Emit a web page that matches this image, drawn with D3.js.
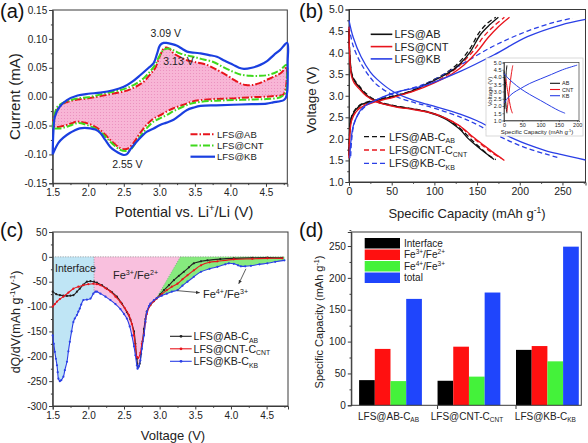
<!DOCTYPE html>
<html><head><meta charset="utf-8">
<script src="https://cdn.jsdelivr.net/npm/d3@7"></script>
<style>body{margin:0;background:#fff}svg{display:block}</style>
</head><body><script>
// ================= DATA =================
// Panel (a) CV loops: [potential (V), current (mA)]
const cvAB = [[1.5,-0.050],[1.52,-0.035],[1.56,-0.023],[1.65,-0.012],[1.8,-0.006],[2.0,-0.003],[2.25,0.003],[2.5,0.009],[2.65,0.016],[2.78,0.026],[2.88,0.040],[2.94,0.049],[3.0,0.068],[3.06,0.083],[3.1,0.085],[3.15,0.082],[3.2,0.075],[3.3,0.068],[3.39,0.063],[3.5,0.060],[3.67,0.055],[3.8,0.047],[3.95,0.037],[4.05,0.029],[4.14,0.023],[4.22,0.020],[4.3,0.020],[4.4,0.023],[4.51,0.029],[4.62,0.035],[4.7,0.040],[4.77,0.049],[4.79,0.052],
  [4.785,0.02],[4.77,0.011],[4.74,0.003],[4.6,0.001],[4.51,0.0],[4.3,-0.001],[4.04,-0.003],[3.8,-0.004],[3.58,-0.006],[3.45,-0.009],[3.34,-0.014],[3.2,-0.020],[3.1,-0.026],[3.0,-0.033],[2.92,-0.038],[2.82,-0.049],[2.73,-0.063],[2.65,-0.078],[2.57,-0.089],[2.51,-0.091],[2.45,-0.089],[2.38,-0.083],[2.31,-0.075],[2.24,-0.066],[2.17,-0.058],[2.08,-0.051],[1.98,-0.046],[1.9,-0.044],[1.84,-0.043],[1.77,-0.046],[1.7,-0.049],[1.6,-0.052],[1.53,-0.052],[1.5,-0.050]];
const cvCNT = [[1.5,-0.055],[1.52,-0.035],[1.57,-0.017],[1.7,-0.008],[1.85,-0.003],[2.0,-0.001],[2.25,0.006],[2.5,0.013],[2.65,0.021],[2.78,0.032],[2.88,0.045],[2.94,0.055],[3.0,0.070],[3.06,0.081],[3.15,0.083],[3.22,0.079],[3.29,0.075],[3.4,0.071],[3.48,0.069],[3.6,0.065],[3.76,0.060],[3.9,0.051],[4.04,0.043],[4.15,0.038],[4.28,0.036],[4.4,0.036],[4.51,0.037],[4.62,0.041],[4.7,0.046],[4.79,0.055],
  [4.795,0.03],[4.78,0.008],[4.7,-0.001],[4.51,-0.004],[4.3,-0.005],[4.04,-0.006],[3.8,-0.007],[3.58,-0.009],[3.45,-0.012],[3.34,-0.017],[3.2,-0.025],[3.1,-0.032],[3.0,-0.038],[2.92,-0.043],[2.82,-0.055],[2.73,-0.069],[2.65,-0.083],[2.59,-0.092],[2.52,-0.094],[2.45,-0.092],[2.38,-0.086],[2.31,-0.078],[2.24,-0.069],[2.17,-0.061],[2.08,-0.054],[1.98,-0.049],[1.9,-0.046],[1.84,-0.046],[1.77,-0.049],[1.7,-0.052],[1.6,-0.055],[1.5,-0.055]];
const cvKB = [[1.5,-0.100],[1.51,-0.060],[1.53,-0.035],[1.6,-0.017],[1.7,-0.006],[1.85,0.002],[2.0,0.005],[2.17,0.007],[2.35,0.011],[2.5,0.017],[2.62,0.026],[2.73,0.037],[2.85,0.050],[2.92,0.058],[2.97,0.075],[3.01,0.089],[3.06,0.093],[3.1,0.093],[3.18,0.091],[3.25,0.088],[3.32,0.083],[3.39,0.078],[3.5,0.076],[3.58,0.075],[3.7,0.072],[3.81,0.069],[3.92,0.062],[4.04,0.055],[4.12,0.050],[4.19,0.048],[4.3,0.050],[4.42,0.055],[4.52,0.062],[4.61,0.072],[4.7,0.081],[4.8,0.093],
  [4.805,0.06],[4.8,0.010],[4.78,-0.002],[4.75,-0.006],[4.6,-0.010],[4.51,-0.012],[4.3,-0.013],[4.04,-0.014],[3.8,-0.015],[3.58,-0.016],[3.48,-0.019],[3.39,-0.023],[3.3,-0.031],[3.2,-0.040],[3.1,-0.045],[3.01,-0.049],[2.92,-0.055],[2.82,-0.061],[2.75,-0.069],[2.68,-0.078],[2.6,-0.090],[2.54,-0.100],[2.5,-0.101],[2.45,-0.099],[2.38,-0.094],[2.31,-0.087],[2.24,-0.075],[2.17,-0.063],[2.1,-0.057],[2.03,-0.055],[1.95,-0.054],[1.88,-0.055],[1.8,-0.059],[1.74,-0.063],[1.65,-0.071],[1.58,-0.080],[1.5,-0.100]];
const cvNames = ["LFS@AB","LFS@CNT","LFS@KB"];
const cvPeaks = [{t:"3.09 V",v:3.09,i:0.103},{t:"3.13 V",v:3.27,i:0.054},{t:"2.55 V",v:2.55,i:-0.123}];

// Panel (b) charge/discharge: [capacity (mAh/g), voltage (V)]
const chAB  = [[0,1.62],[1,2.2],[3,2.5],[8,2.68],[15,2.8],[30,2.88],[53,2.99],[75,3.12],[92,3.28],[111,3.47],[122,3.6],[131,3.76],[142,4.02],[154,4.42],[165,4.65],[175,4.82]];
const chABC = [[0,1.7],[1,2.25],[3,2.52],[8,2.7],[15,2.81],[30,2.9],[53,3.0],[75,3.13],[92,3.3],[111,3.5],[122,3.65],[131,3.82],[142,4.1],[152,4.45],[162,4.68],[172,4.82]];
const chCNT = [[0,1.55],[1,2.1],[3,2.42],[8,2.62],[15,2.74],[30,2.85],[53,2.97],[75,3.1],[100,3.3],[120,3.5],[135,3.72],[150,4.02],[163,4.35],[175,4.6],[188,4.82]];
const chCNTC= [[0,1.6],[1,2.15],[3,2.45],[8,2.65],[15,2.77],[30,2.87],[53,2.98],[75,3.11],[100,3.32],[118,3.52],[132,3.75],[146,4.05],[158,4.38],[170,4.62],[182,4.82]];
const chKB  = [[1,1.55],[2,1.9],[5,2.3],[10,2.55],[14,2.68],[20,2.78],[33,2.91],[53,3.07],[75,3.17],[92,3.26],[131,3.57],[170,3.95],[209,4.37],[248,4.64],[277,4.77]];
const chKBC = [[2,1.6],[3,1.95],[6,2.35],[12,2.6],[22,2.8],[35,2.93],[55,3.07],[92,3.3],[131,3.72],[170,4.16],[209,4.5],[240,4.7],[262,4.8]];
const dcAB  = [[0,4.55],[1,3.9],[3,3.5],[6,3.35],[12,3.2],[20,3.02],[33,2.86],[53,2.76],[75,2.69],[92,2.62],[111,2.48],[125,2.3],[131,2.2],[140,2.0],[150,1.83],[160,1.67],[170,1.52]];
const dcABC = [[0,4.5],[1,3.95],[3,3.55],[6,3.38],[12,3.23],[20,3.05],[33,2.88],[53,2.77],[75,2.7],[92,2.63],[111,2.5],[125,2.33],[135,2.15],[145,1.95],[155,1.77],[165,1.6],[172,1.52]];
const dcCNT = [[0,4.6],[1,3.85],[3,3.45],[6,3.3],[12,3.16],[20,3.0],[33,2.85],[53,2.75],[75,2.68],[92,2.62],[111,2.5],[130,2.3],[145,2.05],[158,1.85],[170,1.67],[182,1.5]];
const dcCNTC= [[0,4.4],[1,3.9],[3,3.5],[6,3.35],[12,3.2],[20,3.02],[33,2.87],[53,2.76],[75,2.69],[92,2.63],[111,2.5],[128,2.32],[142,2.08],[155,1.87],[166,1.7],[178,1.55]];
const dcKB  = [[0,4.75],[5,4.35],[14,3.91],[25,3.55],[33,3.38],[53,3.08],[75,2.9],[92,2.8],[131,2.57],[150,2.42],[170,2.22],[190,2.03],[209,1.87],[230,1.73],[248,1.64],[277,1.51]];
const dcKBC = [[0,4.6],[5,4.15],[14,3.75],[25,3.42],[33,3.25],[53,3.0],[75,2.85],[92,2.76],[131,2.5],[150,2.33],[170,2.12],[190,1.93],[209,1.78],[230,1.65],[244,1.57]];
const bNamesSolid = ["LFS@AB","LFS@CNT","LFS@KB"];
const bNamesDash = [["LFS@AB-C","AB"],["LFS@CNT-C","CNT"],["LFS@KB-C","KB"]];
// inset of (b)
const inChAB = [[2,1.8],[3,2.6],[4,3.5],[6,4.3],[8,4.8]];
const inDcAB = [[0,4.4],[2,3.4],[4,2.5],[6,1.9],[8,1.5]];
const inChCNT = [[8,1.6],[12,2.5],[16,3.4],[20,4.2],[24,4.8]];
const inDcCNT = [[5,3.9],[10,3.0],[15,2.3],[19,1.8],[23,1.5]];
const inChKB = [[0,2.2],[10,2.55],[25,2.9],[45,3.2],[70,3.55],[100,3.87],[130,4.18],[160,4.5],[200,4.82]];
const inDcKB = [[0,4.25],[10,3.95],[25,3.6],[45,3.2],[70,2.8],[100,2.38],[130,1.95],[150,1.68],[167,1.5]];
const inNames = ["AB","CNT","KB"];

// Panel (c) dQ/dV: [voltage (V), dQ/dV]
const dqAB = [[1.5,-70],[1.55,-75],[1.6,-77],[1.65,-78],[1.7,-78.5],[1.75,-78],[1.79,-77],[1.84,-70],[1.88,-64],[1.93,-56],[1.98,-50],[2.03,-49],[2.08,-50],[2.12,-52],[2.19,-57],[2.26,-64],[2.33,-71],[2.4,-80],[2.47,-94],[2.54,-111],[2.59,-126],[2.64,-150],[2.66,-175],[2.68,-205],[2.7,-222],[2.72,-215],[2.74,-195],[2.76,-170],[2.78,-145],[2.8,-125],[2.82,-110],[2.87,-97],[2.92,-89],[2.96,-83],[3.01,-75],[3.06,-67],[3.13,-57],[3.2,-47],[3.27,-38],[3.34,-30],[3.41,-21],[3.48,-13],[3.58,-9],[3.67,-7],[3.85,-4.5],[4.04,-3],[4.3,-2],[4.51,-1.5],[4.72,-2]];
const dqCNT = [[1.5,-100],[1.53,-95],[1.56,-90],[1.6,-85],[1.65,-80],[1.72,-72],[1.79,-64],[1.86,-60],[1.93,-57],[2.0,-55],[2.07,-54],[2.12,-55],[2.17,-57],[2.24,-63],[2.31,-70],[2.38,-80],[2.45,-91],[2.51,-103],[2.57,-117],[2.61,-135],[2.64,-158],[2.66,-180],[2.68,-201],[2.7,-203],[2.73,-193],[2.75,-175],[2.78,-155],[2.8,-132],[2.82,-115],[2.87,-97],[2.92,-89],[2.96,-84],[3.03,-75],[3.1,-67],[3.17,-60],[3.25,-54],[3.32,-45],[3.39,-37],[3.48,-27],[3.58,-17],[3.7,-11],[3.81,-9],[4.04,-5],[4.3,-4],[4.51,-3],[4.72,-3]];
const dqKB = [[1.5,-158],[1.515,-175],[1.53,-191],[1.545,-205],[1.56,-218],[1.57,-232],[1.58,-245],[1.6,-250],[1.62,-248],[1.65,-241],[1.67,-228],[1.7,-211],[1.72,-190],[1.74,-171],[1.765,-150],[1.79,-131],[1.81,-124],[1.84,-117],[1.86,-110],[1.88,-104],[1.9,-96],[1.93,-87],[1.98,-86],[2.03,-84],[2.07,-74],[2.1,-70],[2.12,-70],[2.17,-74],[2.24,-80],[2.31,-87],[2.38,-95],[2.45,-105],[2.5,-115],[2.54,-124],[2.58,-140],[2.61,-158],[2.64,-180],[2.66,-198],[2.68,-218],[2.69,-225],[2.71,-220],[2.73,-208],[2.75,-185],[2.78,-158],[2.8,-130],[2.82,-111],[2.85,-99],[2.87,-94],[2.92,-87],[2.96,-83],[3.03,-78],[3.1,-74],[3.17,-70],[3.25,-67],[3.32,-58],[3.39,-50],[3.48,-40],[3.58,-30],[3.7,-24],[3.81,-20],[3.92,-15],[3.97,-13],[4.04,-14],[4.1,-17],[4.14,-19],[4.2,-19],[4.28,-18],[4.4,-15],[4.51,-13],[4.62,-10],[4.75,-7]];
const dqNames = [["LFS@AB-C","AB"],["LFS@CNT-C","CNT"],["LFS@KB-C","KB"]];
const dqInterfaceEnd = 2.08;
const dqDiagonal = [[2.95,-84],[3.29,0]];

// Panel (d) capacities (mAh/g)
const groups = [["LFS@AB-C","AB"],["LFS@CNT-C","CNT"],["LFS@KB-C","KB"]];
const barSeries = ["Interface","Fe3+/Fe2+","Fe4+/Fe3+","total"];
const capInterface = [39.5, 38.5, 87];
const capFe32 = [88.5, 92, 93];
const capFe43 = [38, 45, 69];
const capTotal = [167, 177, 249];

// ================= DRAWING =================
const FONT = '"Liberation Sans", Arial, Helvetica, sans-serif';
const svg = d3.select("body").append("svg").attr("width",588).attr("height",443)
  .attr("font-family",FONT);
const defs = svg.append("defs");
const pat = defs.append("pattern").attr("id","pinkdots").attr("width",3).attr("height",3).attr("patternUnits","userSpaceOnUse");
pat.append("rect").attr("width",3).attr("height",3).attr("fill","#f8b6d6");
pat.append("circle").attr("cx",1.5).attr("cy",1.5).attr("r",0.55).attr("fill","#e98cbc");

const AX = "#3a3a3a";
function rich(t, parts, fs){
  let shift = 0;
  parts.forEach(([s,k])=>{
    const target = k==="sup" ? -0.38*fs : k==="sub" ? 0.24*fs : 0;
    t.append("tspan").attr("dy", target-shift).attr("font-size", k==="n"?fs:fs*0.65).text(s);
    shift = target;
  });
  return t;
}
function axes(g, x, y, o){
  const b = y.range()[0], l = x.range()[0];
  const fs = o.fs || 10;
  const gx = g.append("g").attr("transform",`translate(0,${b})`)
    .call(d3.axisBottom(x).tickValues(o.xMajor).tickSize(3.5).tickPadding(2).tickFormat(o.xFmt));
  gx.attr("font-family",FONT).attr("font-size",fs);
  const gxm = g.append("g").attr("transform",`translate(0,${b})`)
    .call(d3.axisBottom(x).tickValues(o.xMinor).tickSize(1.8).tickFormat(""));
  gxm.select(".domain").remove();
  const gy = g.append("g").attr("transform",`translate(${l},0)`)
    .call(d3.axisLeft(y).tickValues(o.yMajor).tickSize(3.5).tickPadding(2).tickFormat(o.yFmt));
  gy.attr("font-family",FONT).attr("font-size",fs);
  const gym = g.append("g").attr("transform",`translate(${l},0)`)
    .call(d3.axisLeft(y).tickValues(o.yMinor).tickSize(1.8).tickFormat(""));
  gym.select(".domain").remove();
  g.selectAll(".domain, .tick line").attr("stroke",AX);
  g.selectAll(".tick text").attr("fill","#222");
  g.append("rect").attr("x",l).attr("y",y.range()[1]).attr("width",x.range()[1]-l)
    .attr("height",b-y.range()[1]).attr("fill","none").attr("stroke",AX).attr("stroke-width",1);
}
function range(a,b,s){const r=[];for(let v=a;v<=b+1e-9;v+=s)r.push(+v.toFixed(6));return r;}
function interp(arr,v){
  for(let i=0;i<arr.length-1;i++){const [x0,y0]=arr[i],[x1,y1]=arr[i+1];
    if((v>=x0&&v<=x1)||(v<=x0&&v>=x1)){return y0+(y1-y0)*(v-x0)/(x1-x0);}}
  return arr[arr.length-1][1];
}
function panelLabel(t,x,y){svg.append("text").attr("x",x).attr("y",y).attr("font-size",20).attr("fill","#111").text(t);}

// ---------- Panel (a) ----------
{
  const g = svg.append("g");
  const x = d3.scaleLinear([1.5,4.8],[52.7,287.3]);
  const y = d3.scaleLinear([-0.15,0.15],[183.3,10]);
  const line = d3.line().x(d=>x(d[0])).y(d=>y(d[1])).curve(d3.curveCatmullRom.alpha(0.5));
  g.append("path").attr("d",line(cvAB)+"Z").attr("fill","url(#pinkdots)").attr("stroke","none");
  axes(g,x,y,{xMajor:range(1.5,4.5,0.5),xMinor:range(1.75,4.75,0.5),yMajor:range(-0.15,0.15,0.05),yMinor:range(-0.125,0.125,0.05),
    xFmt:d=>d.toFixed(1),yFmt:d=>d.toFixed(2)});
  const styles = [{c:"#e8141c",w:2,da:"7,2,1.5,2"},{c:"#3fd81c",w:2,da:"7,2,1.5,2"},{c:"#1a3fe0",w:2.2,da:null}];
  [cvAB,cvCNT,cvKB].forEach((d,i)=>{
    g.append("path").attr("d",line(d)).attr("fill","none").attr("stroke",styles[i].c)
      .attr("stroke-width",styles[i].w).attr("stroke-dasharray",styles[i].da).attr("stroke-linejoin","round");
  });
  cvPeaks.forEach(p=>{ g.append("text").attr("x",x(p.v)).attr("y",y(p.i)).attr("text-anchor","middle")
    .attr("font-size",10.5).attr("fill","#222").text(p.t); });
  cvNames.forEach((n,i)=>{
    const yy = 134.3 + i*11.2;
    g.append("line").attr("x1",190.5).attr("x2",215).attr("y1",yy).attr("y2",yy).attr("stroke",styles[i].c)
      .attr("stroke-width",styles[i].w).attr("stroke-dasharray",styles[i].da);
    g.append("text").attr("x",217).attr("y",yy+3.5).attr("font-size",9.5).attr("fill","#222").text(n);
  });
  g.append("text").attr("transform","translate(20,96.7) rotate(-90)").attr("text-anchor","middle").attr("font-size",15).attr("fill","#222").text("Current (mA)");
  rich(g.append("text").attr("x",184).attr("y",217).attr("text-anchor","middle").attr("fill","#222"),
    [["Potential vs. Li","n"],["+","sup"],["/Li (V)","n"]],14.5);
  panelLabel("(a)",0,18);
}

// ---------- Panel (b) ----------
{
  const g = svg.append("g");
  const x = d3.scaleLinear([0,277],[349,585.5]);
  const y = d3.scaleLinear([1,5],[182,9.5]);
  axes(g,x,y,{xMajor:range(0,250,50),xMinor:range(25,275,50),yMajor:range(1,5,0.5),yMinor:range(1.25,4.75,0.5),
    xFmt:d=>String(d),yFmt:d=>d.toFixed(1),fs:10.5});
  const line = d3.line().x(d=>x(d[0])).y(d=>y(d[1])).curve(d3.curveCatmullRom.alpha(0.5));
  const cols = ["#111","#e8141c","#2a3fe6"];
  const solid = [[chAB,dcAB],[chCNT,dcCNT],[chKB,dcKB]];
  const dashed = [[chABC,dcABC],[chCNTC,dcCNTC],[chKBC,dcKBC]];
  dashed.forEach((p,i)=>{ p.forEach(d=>{ g.append("path").attr("d",line(d)).attr("fill","none").attr("stroke",cols[i]).attr("stroke-width",1.3).attr("stroke-dasharray","5,3"); }); });
  solid.forEach((p,i)=>{ p.forEach(d=>{ g.append("path").attr("d",line(d)).attr("fill","none").attr("stroke",cols[i]).attr("stroke-width",1.3); }); });
  bNamesSolid.forEach((n,i)=>{
    const yy = 34.3 + i*12.3;
    g.append("line").attr("x1",370.7).attr("x2",392.3).attr("y1",yy).attr("y2",yy).attr("stroke",cols[i]).attr("stroke-width",1.6);
    g.append("text").attr("x",394.5).attr("y",yy+4).attr("font-size",11).attr("fill","#222").text(n);
  });
  bNamesDash.forEach((n,i)=>{
    const yy = 136.7 + i*13.3;
    g.append("line").attr("x1",364).attr("x2",386).attr("y1",yy).attr("y2",yy).attr("stroke",cols[i]).attr("stroke-width",1.3).attr("stroke-dasharray","5,3");
    rich(g.append("text").attr("x",389).attr("y",yy+4).attr("fill","#222"),[[n[0],"n"],[n[1],"sub"]],10.8);
  });
  g.append("text").attr("transform","translate(315.5,100) rotate(-90)").attr("text-anchor","middle").attr("font-size",13.5).attr("fill","#222").text("Voltage (V)");
  rich(g.append("text").attr("x",467).attr("y",218).attr("text-anchor","middle").attr("fill","#222"),
    [["Specific Capacity (mAh g","n"],["-1","sup"],[")","n"]],13);
  panelLabel("(b)",299,18);
  // inset
  const gi = svg.append("g");
  gi.append("rect").attr("x",486).attr("y",58).attr("width",97).attr("height",78).attr("fill","#fff").attr("stroke","#cfcfcf").attr("stroke-width",0.8);
  const xi = d3.scaleLinear([0,205],[504,579]);
  const yi = d3.scaleLinear([1,5],[120.5,62.5]);
  const li = d3.line().x(d=>xi(d[0])).y(d=>yi(d[1])).curve(d3.curveCatmullRom.alpha(0.5));
  const gx = gi.append("g").attr("transform","translate(0,120.5)").call(d3.axisBottom(xi).tickValues(range(0,200,50)).tickSize(1.5).tickPadding(1).tickFormat(d=>String(d)));
  const gy = gi.append("g").attr("transform","translate(504,0)").call(d3.axisLeft(yi).tickValues(range(1,5,0.5)).tickSize(1.5).tickPadding(1).tickFormat(d=>d.toFixed(1)));
  [gx,gy].forEach(a=>{ a.attr("font-family",FONT).attr("font-size",5.5); });
  gi.selectAll(".domain, .tick line").attr("stroke",AX).attr("stroke-width",0.7);
  gi.selectAll(".tick text").attr("fill","#222");
  gi.append("rect").attr("x",504).attr("y",62.5).attr("width",75).attr("height",58).attr("fill","none").attr("stroke",AX).attr("stroke-width",0.7);
  [[inChAB,inDcAB],[inChCNT,inDcCNT],[inChKB,inDcKB]].forEach((p,i)=>{ p.forEach(d=>{ gi.append("path").attr("d",li(d)).attr("fill","none").attr("stroke",cols[i]).attr("stroke-width",1); }); });
  inNames.forEach((n,i)=>{
    const yy = 83.3 + i*6.2;
    gi.append("line").attr("x1",550).attr("x2",560).attr("y1",yy).attr("y2",yy).attr("stroke",cols[i]).attr("stroke-width",1.1);
    gi.append("text").attr("x",562).attr("y",yy+2).attr("font-size",5.5).attr("fill","#222").text(n);
  });
  gi.append("text").attr("transform","translate(491.5,91.5) rotate(-90)").attr("text-anchor","middle").attr("font-size",6).attr("fill","#222").text("Voltage (V)");
  rich(gi.append("text").attr("x",537).attr("y",134).attr("text-anchor","middle").attr("fill","#222"),
    [["Specific Capacity (mAh g","n"],["-1","sup"],[")","n"]],6);
}

// ---------- Panel (c) ----------
{
  const g = svg.append("g");
  const x = d3.scaleLinear([1.5,4.8],[52.7,288]);
  const y = d3.scaleLinear([-300,50],[406,232]);
  const P = pts => "M"+pts.map(d=>`${x(d[0])},${y(d[1])}`).join("L")+"Z";
  const kbIn = dqKB.filter(d=>d[0]<dqInterfaceEnd).reverse();
  g.append("path").attr("d",P([[1.5,0],[dqInterfaceEnd,0],[dqInterfaceEnd,interp(dqKB,dqInterfaceEnd)],...kbIn])).attr("fill","#bfe5f5");
  const d0 = dqDiagonal[0], d1 = dqDiagonal[1];
  const kbMid = dqKB.filter(d=>d[0]>dqInterfaceEnd && d[0]<d0[0]).reverse();
  g.append("path").attr("d",P([[dqInterfaceEnd,0],[d1[0],0],d0,...kbMid,[dqInterfaceEnd,interp(dqKB,dqInterfaceEnd)]])).attr("fill","#f9c0de");
  const kbHi = dqKB.filter(d=>d[0]>d0[0]).reverse();
  const last = dqKB[dqKB.length-1];
  g.append("path").attr("d",P([d0,d1,[last[0],0],...kbHi])).attr("fill","#86ea7e");
  const gl = (x1,y1,x2,y2)=>{ g.append("line").attr("x1",x(x1)).attr("y1",y(y1)).attr("x2",x(x2)).attr("y2",y(y2))
    .attr("stroke","#888").attr("stroke-width",0.8).attr("stroke-dasharray","1,1.5"); };
  gl(1.5,0,4.75,0); gl(dqInterfaceEnd,0,dqInterfaceEnd,interp(dqKB,dqInterfaceEnd)); gl(d0[0],d0[1],d1[0],d1[1]);
  axes(g,x,y,{xMajor:range(1.5,4.5,0.5),xMinor:range(1.75,4.75,0.5),yMajor:range(-300,50,50),yMinor:range(-275,25,50),
    xFmt:d=>d.toFixed(1),yFmt:d=>String(d)});
  const line = d3.line().x(d=>x(d[0])).y(d=>y(d[1])).curve(d3.curveCatmullRom.alpha(0.5));
  const cols = ["#222","#e8141c","#2a3fe6"];
  [dqAB,dqCNT,dqKB].forEach((d,i)=>{
    g.append("path").attr("d",line(d)).attr("fill","none").attr("stroke",cols[i]).attr("stroke-width",1.1);
    g.selectAll(null).data(d).join("circle").attr("cx",p=>x(p[0])).attr("cy",p=>y(p[1])).attr("r",1.1).attr("fill",cols[i]);
  });
  g.append("text").attr("x",55).attr("y",272).attr("font-size",10.5).attr("fill","#222").text("Interface");
  rich(g.append("text").attr("x",113).attr("y",279).attr("fill","#222"),[["Fe","n"],["3+","sup"],["/Fe","n"],["2+","sup"]],11);
  rich(g.append("text").attr("x",203).attr("y",298).attr("fill","#222"),[["Fe","n"],["4+","sup"],["/Fe","n"],["3+","sup"]],11);
  defs.append("marker").attr("id","arr").attr("viewBox","0 0 10 10").attr("refX",9).attr("refY",5).attr("markerWidth",5).attr("markerHeight",5).attr("orient","auto")
    .append("path").attr("d","M0,1L10,5L0,9Z").attr("fill","#333");
  g.append("line").attr("x1",x(3.25)).attr("y1",y(-68)).attr("x2",x(3.56)).attr("y2",y(-72)).attr("stroke","#333").attr("stroke-width",0.8).attr("marker-end","url(#arr)");
  g.append("line").attr("x1",x(4.21)).attr("y1",y(-24)).attr("x2",x(4.11)).attr("y2",y(-54)).attr("stroke","#333").attr("stroke-width",0.8).attr("marker-end","url(#arr)");
  dqNames.forEach((n,i)=>{
    const yy = 336.3 + i*12.5;
    g.append("line").attr("x1",170).attr("x2",191.7).attr("y1",yy).attr("y2",yy).attr("stroke",cols[i]).attr("stroke-width",1.1);
    g.append("circle").attr("cx",181).attr("cy",yy).attr("r",1.4).attr("fill",cols[i]);
    rich(g.append("text").attr("x",193.5).attr("y",yy+4).attr("fill","#222"),[[n[0],"n"],[n[1],"sub"]],10.6);
  });
  rich(g.append("text").attr("transform","translate(19.5,322) rotate(-90)").attr("text-anchor","middle").attr("fill","#222"),
    [["dQ/dV(mAh g","n"],["-1","sup"],["V","n"],["-1","sup"],[")","n"]],12.5);
  g.append("text").attr("x",173).attr("y",440).attr("text-anchor","middle").attr("font-size",13).attr("fill","#222").text("Voltage (V)");
  panelLabel("(c)",0,237);
}

// ---------- Panel (d) ----------
{
  const g = svg.append("g");
  const y = d3.scaleLinear([0,272],[405.3,232]);
  const left = 351.3, right = 581.3;
  const xG = d3.scalePoint().domain(groups.map(d=>d[0])).range([390.5,547.4]);
  const xS = d3.scaleBand().domain(barSeries).range([-31.4,31.4]).padding(0);
  const cols = ["#000","#ff1010","#44f23a","#1f45fc"];
  const vals = [capInterface,capFe32,capFe43,capTotal];
  groups.forEach((gr,gi)=>{
    barSeries.forEach((s,si)=>{
      const v = vals[si][gi];
      g.append("rect").attr("x",xG(gr[0])+xS(s)).attr("width",xS.bandwidth()).attr("y",y(v)).attr("height",y(0)-y(v)).attr("fill",cols[si]);
    });
  });
  const gy = g.append("g").attr("transform",`translate(${left},0)`).call(d3.axisLeft(y).tickValues(range(0,250,50)).tickSize(3.5).tickPadding(2).tickFormat(d=>String(d)));
  gy.attr("font-family",FONT).attr("font-size",10);
  const gym = g.append("g").attr("transform",`translate(${left},0)`).call(d3.axisLeft(y).tickValues(range(25,275,50)).tickSize(1.8).tickFormat(""));
  gym.select(".domain").remove();
  g.selectAll(".domain, .tick line").attr("stroke",AX);
  g.selectAll(".tick text").attr("fill","#222");
  g.append("rect").attr("x",left).attr("y",232).attr("width",right-left).attr("height",405.3-232).attr("fill","none").attr("stroke",AX);
  groups.slice(1).forEach(gr=>{
    const xx = xG(gr[0])+xS.range()[0];
    g.append("line").attr("x1",xx).attr("x2",xx).attr("y1",405.3).attr("y2",409).attr("stroke",AX);
  });
  groups.forEach(gr=>{
    rich(g.append("text").attr("x",xG(gr[0])-2).attr("y",420).attr("text-anchor","middle").attr("fill","#222"),[[gr[0],"n"],[gr[1],"sub"]],10);
  });
  const labs = [[["Interface","n"]],[["Fe","n"],["3+","sup"],["/Fe","n"],["2+","sup"]],[["Fe","n"],["4+","sup"],["/Fe","n"],["3+","sup"]],[["total","n"]]];
  barSeries.forEach((s,i)=>{
    const yy = 238 + i*11.5;
    g.append("rect").attr("x",364.7).attr("y",yy).attr("width",35.3).attr("height",10.5).attr("fill",cols[i]);
    rich(g.append("text").attr("x",404).attr("y",yy+8.5).attr("fill","#222"),labs[i],10);
  });
  rich(g.append("text").attr("transform","translate(323,322) rotate(-90)").attr("text-anchor","middle").attr("fill","#222"),
    [["Specific Capacity (mAh g","n"],["-1","sup"],[")","n"]],11);
  panelLabel("(d)",299,237);
}
</script></body></html>
